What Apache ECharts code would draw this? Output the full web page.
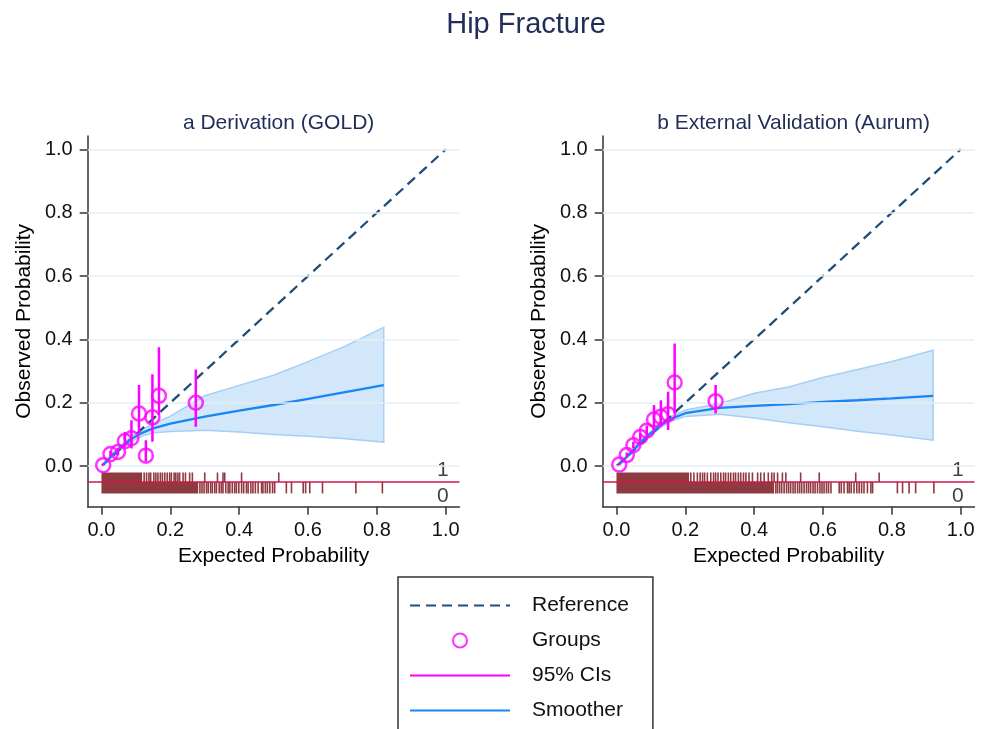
<!DOCTYPE html>
<html>
<head>
<meta charset="utf-8">
<script src="https://cdn.jsdelivr.net/npm/echarts@6/dist/echarts.min.js"></script>
<style>
  html, body { margin: 0; padding: 0; background: #fff; }
  #chart { width: 987px; height: 729px; }
</style>
</head>
<body>
<div id="chart"></div>
<script>
// tick values shared by both panels
const xTicks = [0, 0.2, 0.4, 0.6, 0.8, 1.0];
const yTicks = [0, 0.2, 0.4, 0.6, 0.8, 1.0];
const refLine = [[0, 0], [1, 1]];
const outcomeLabels = ['1', '0'];
const panelTitles = ['a Derivation (GOLD)', 'b External Validation (Aurum)'];

// a: Derivation (GOLD)
const goldGroupX = [0.005, 0.026, 0.048, 0.068, 0.087, 0.109, 0.129, 0.148, 0.167, 0.274];
const goldGroupY = [0.003, 0.038, 0.045, 0.079, 0.088, 0.166, 0.033, 0.154, 0.222, 0.200];
const goldCiLow  = [0.001, 0.030, 0.034, 0.061, 0.056, 0.103, 0.014, 0.077, 0.161, 0.124];
const goldCiHigh = [0.008, 0.048, 0.058, 0.108, 0.145, 0.256, 0.082, 0.290, 0.375, 0.305];
const goldSmoothX = [0.005, 0.03, 0.06, 0.09, 0.12, 0.15, 0.2, 0.3, 0.4, 0.5, 0.6, 0.7, 0.82];
const goldSmoothY = [0.004, 0.033, 0.063, 0.088, 0.106, 0.119, 0.134, 0.156, 0.175, 0.193, 0.212, 0.232, 0.256];
const goldBandHigh = [0.006, 0.038, 0.069, 0.096, 0.117, 0.133, 0.158, 0.222, 0.255, 0.287, 0.33, 0.375, 0.438];
const goldBandLow  = [0.002, 0.028, 0.057, 0.08, 0.096, 0.105, 0.109, 0.113, 0.108, 0.1, 0.094, 0.087, 0.076];
// rug: dense stretches as [from, to], plus single ticks
const goldEventBands = [[0, 0.118]];
const goldEventTicks = [0.124, 0.131, 0.138, 0.143, 0.152, 0.158, 0.164, 0.171, 0.177, 0.184, 0.191, 0.198,
  0.203, 0.211, 0.216, 0.222, 0.227, 0.237, 0.244, 0.256, 0.264, 0.300, 0.337, 0.353, 0.358, 0.407, 0.515];
const goldNonEventBands = [[0, 0.281]];
const goldNonEventTicks = [0.286, 0.292, 0.298, 0.305, 0.310, 0.317, 0.322, 0.329, 0.334, 0.342, 0.348, 0.353,
  0.361, 0.368, 0.373, 0.380, 0.387, 0.392, 0.399, 0.407, 0.413, 0.421, 0.426, 0.434, 0.440, 0.447, 0.455,
  0.465, 0.469, 0.476, 0.482, 0.489, 0.497, 0.503, 0.537, 0.552, 0.586, 0.593, 0.605, 0.642, 0.739, 0.816];

// b: External Validation (Aurum)
const aurumGroupX = [0.008, 0.030, 0.049, 0.069, 0.088, 0.109, 0.129, 0.150, 0.169, 0.288];
const aurumGroupY = [0.005, 0.035, 0.066, 0.092, 0.112, 0.147, 0.156, 0.164, 0.264, 0.205];
const aurumCiLow  = [0.002, 0.028, 0.056, 0.080, 0.097, 0.114, 0.124, 0.114, 0.166, 0.166];
const aurumCiHigh = [0.009, 0.043, 0.077, 0.105, 0.128, 0.193, 0.208, 0.235, 0.387, 0.256];
const aurumSmoothX = [0.008, 0.04, 0.07, 0.1, 0.13, 0.16, 0.2, 0.3, 0.4, 0.5, 0.6, 0.7, 0.8, 0.92];
const aurumSmoothY = [0.006, 0.04, 0.075, 0.104, 0.13, 0.15, 0.167, 0.184, 0.19, 0.196, 0.203, 0.208, 0.214, 0.222];
const aurumBandHigh = [0.009, 0.044, 0.08, 0.11, 0.137, 0.158, 0.177, 0.198, 0.23, 0.25, 0.28, 0.305, 0.33, 0.366];
const aurumBandLow  = [0.003, 0.036, 0.07, 0.098, 0.123, 0.142, 0.157, 0.164, 0.152, 0.137, 0.124, 0.11, 0.098, 0.082];
const aurumEventBands = [[0, 0.211]];
const aurumEventTicks = [0.216, 0.225, 0.235, 0.243, 0.250, 0.256, 0.264, 0.274, 0.282, 0.288, 0.295, 0.303,
  0.311, 0.317, 0.325, 0.332, 0.340, 0.346, 0.354, 0.361, 0.369, 0.376, 0.385, 0.395, 0.410, 0.419, 0.429,
  0.441, 0.451, 0.458, 0.468, 0.482, 0.492, 0.535, 0.589, 0.695, 0.763];
const aurumNonEventBands = [[0, 0.458]];
const aurumNonEventTicks = [0.463, 0.468, 0.474, 0.480, 0.487, 0.494, 0.500, 0.506, 0.513, 0.519, 0.526, 0.532,
  0.538, 0.545, 0.552, 0.558, 0.564, 0.571, 0.577, 0.584, 0.591, 0.597, 0.603, 0.610, 0.616, 0.623, 0.647,
  0.653, 0.661, 0.671, 0.676, 0.682, 0.690, 0.698, 0.705, 0.712, 0.719, 0.729, 0.739, 0.744, 0.816, 0.831,
  0.850, 0.869, 0.922];

const font = "'Liberation Sans', Arial, sans-serif";
const navy = '#1f2d57';
const rugColor = '#8e3a40';

const panels = [
  { gx: goldGroupX, gy: goldGroupY, lo: goldCiLow, hi: goldCiHigh,
    sx: goldSmoothX, sy: goldSmoothY, bh: goldBandHigh, bl: goldBandLow,
    eb: goldEventBands, et: goldEventTicks, nb: goldNonEventBands, nt: goldNonEventTicks },
  { gx: aurumGroupX, gy: aurumGroupY, lo: aurumCiLow, hi: aurumCiHigh,
    sx: aurumSmoothX, sy: aurumSmoothY, bh: aurumBandHigh, bl: aurumBandLow,
    eb: aurumEventBands, et: aurumEventTicks, nb: aurumNonEventBands, nt: aurumNonEventTicks }
];

const gridLefts = [87.7, 602.7];
const gridW = 371.8;

function bandRenderer(xs, lo, hi) {
  return function (params, api) {
    if (params.dataIndex !== 0) return null;
    const pts = [];
    xs.forEach((x, i) => pts.push(api.coord([x, hi[i]])));
    for (let i = xs.length - 1; i >= 0; i--) pts.push(api.coord([xs[i], lo[i]]));
    return { type: 'polygon', shape: { points: pts },
      style: { fill: '#d3e7fb', stroke: '#a5cff5', lineWidth: 1.5 } };
  };
}

function renderRug(params, api) {
  const x0 = api.value(0), x1 = api.value(1), out = api.value(2);
  const yTop = out === 1 ? -0.02 : -0.05;
  const yBot = out === 1 ? -0.05 : -0.086;
  const p0 = api.coord([x0, yTop]);
  const p1 = api.coord([x1, yBot]);
  if (x1 > x0) {
    return { type: 'rect', shape: { x: p0[0], y: p0[1], width: p1[0] - p0[0], height: p1[1] - p0[1] },
      style: { fill: rugColor } };
  }
  return { type: 'line', shape: { x1: p0[0], y1: p0[1], x2: p0[0], y2: p1[1] },
    style: { stroke: rugColor, lineWidth: 1.6 } };
}

const grids = [], xAxes = [], yAxes = [], series = [];
const titles = [{
  text: 'Hip Fracture', left: 521, top: 5, textAlign: 'center',
  textStyle: { fontSize: 29, fontWeight: 'normal', color: navy, fontFamily: font }
}];

panels.forEach((p, i) => {
  grids.push({ left: gridLefts[i], top: 136, width: gridW, height: 370.7, outerBoundsMode: 'none' });
  titles.push({
    text: panelTitles[i], left: gridLefts[i] + gridW / 2, top: 108, textAlign: 'center',
    textStyle: { fontSize: 21, fontWeight: 'normal', color: navy, fontFamily: font }
  });
  xAxes.push({
    type: 'value', gridIndex: i, min: -0.04, max: 1.04,
    name: 'Expected Probability', nameLocation: 'middle', nameGap: 32,
    nameTextStyle: { fontSize: 21, color: '#000', fontFamily: font },
    axisLine: { show: true, onZero: false, lineStyle: { color: '#333', width: 1.5 } },
    axisTick: { show: true, length: 8, customValues: xTicks, lineStyle: { color: '#333', width: 1.5 } },
    axisLabel: { customValues: xTicks, formatter: v => v.toFixed(1), fontSize: 20, color: '#111',
      margin: 14, fontFamily: font },
    splitLine: { show: false }
  });
  yAxes.push({
    type: 'value', gridIndex: i, min: -0.128, max: 1.042,
    name: 'Observed Probability', nameLocation: 'middle', nameGap: 53,
    nameTextStyle: { fontSize: 21, color: '#000', fontFamily: font },
    axisLine: { show: true, onZero: false, lineStyle: { color: '#333', width: 1.5 } },
    axisTick: { show: true, length: 8, customValues: yTicks, lineStyle: { color: '#333', width: 1.5 } },
    axisLabel: { customValues: yTicks, formatter: v => v.toFixed(1), fontSize: 20, color: '#111',
      margin: 15, fontFamily: font },
    splitLine: { show: false }
  });

  const ax = { xAxisIndex: i, yAxisIndex: i };

  // horizontal grid lines
  series.push(Object.assign({
    type: 'line', name: 'grid', data: [], z: 0, silent: true,
    markLine: { silent: true, symbol: 'none', label: { show: false },
      lineStyle: { color: '#e6eff2', width: 1.5, type: 'solid' },
      data: yTicks.map(v => ({ yAxis: v })) }
  }, ax));

  // smoother confidence band
  series.push(Object.assign({
    type: 'custom', name: 'band', z: 1, silent: true,
    renderItem: bandRenderer(p.sx, p.bl, p.bh),
    data: p.sx.map((x, k) => [x, p.bl[k], p.bh[k]]),
    encode: { x: 0, y: [1, 2] }
  }, ax));

  // rug of outcomes
  const rugData = [];
  p.eb.forEach(b => rugData.push([b[0], b[1], 1]));
  p.et.forEach(x => rugData.push([x, x, 1]));
  p.nb.forEach(b => rugData.push([b[0], b[1], 0]));
  p.nt.forEach(x => rugData.push([x, x, 0]));
  series.push(Object.assign({
    type: 'custom', name: 'rug', z: 2, silent: true,
    renderItem: renderRug, data: rugData, encode: { x: [0, 1] }
  }, ax));
  series.push(Object.assign({
    type: 'line', name: 'rugline', data: [], z: 2, silent: true,
    markLine: { silent: true, symbol: 'none', label: { show: false },
      lineStyle: { color: '#d0174b', width: 1.5, type: 'solid' },
      data: [{ yAxis: -0.05 }] }
  }, ax));
  series.push(Object.assign({
    type: 'scatter', name: 'outcome', symbolSize: 0, silent: true, z: 2,
    data: [[1, -0.013], [1, -0.096]],
    label: { show: true, position: 'inside', offset: [-3, 0], fontSize: 21, color: '#111', fontFamily: font,
      formatter: prm => outcomeLabels[prm.dataIndex] }
  }, ax));

  series.push(Object.assign({
    type: 'line', name: 'Reference', data: refLine, z: 3, symbol: 'none',
    lineStyle: { color: '#1f4e79', width: 2.3, type: [10, 6] }, itemStyle: { color: '#1f4e79' }
  }, ax));

  series.push(Object.assign({
    type: 'line', name: 'Smoother', z: 4, symbol: 'none',
    data: p.sx.map((x, k) => [x, p.sy[k]]),
    lineStyle: { color: '#1685f5', width: 2.3 }, itemStyle: { color: '#1685f5' }
  }, ax));

  const ciData = [];
  p.gx.forEach((x, k) => { ciData.push([x, p.lo[k]], [x, p.hi[k]], [x, '-']); });
  series.push(Object.assign({
    type: 'line', name: '95% CIs', z: 5, symbol: 'none', connectNulls: false,
    data: ciData, lineStyle: { color: '#ff00ff', width: 2.5 }, itemStyle: { color: '#ff00ff' }
  }, ax));

  series.push(Object.assign({
    type: 'scatter', name: 'Groups', z: 6, symbol: 'circle', symbolSize: 14,
    data: p.gx.map((x, k) => [x, p.gy[k]]),
    itemStyle: { color: 'rgba(255,255,255,0)', borderColor: '#ff00ff', borderWidth: 2.5 }
  }, ax));
});

const hideDot = { opacity: 0 };
const chart = echarts.init(document.getElementById('chart'));
chart.setOption({
  animation: false,
  backgroundColor: '#fff',
  title: titles,
  grid: grids,
  xAxis: xAxes,
  yAxis: yAxes,
  legend: {
    data: [
      { name: 'Reference', itemStyle: hideDot },
      { name: 'Groups' },
      { name: '95% CIs', itemStyle: hideDot },
      { name: 'Smoother', itemStyle: hideDot }
    ],
    orient: 'vertical', left: 398, top: 577, height: 170, selectedMode: false,
    itemWidth: 100, itemHeight: 14, itemGap: 14,
    padding: [18, 24, 16, 11], borderColor: '#333', borderWidth: 1.5,
    textStyle: { fontSize: 21, color: '#111', fontFamily: font, padding: [0, 0, 0, 17] }
  },
  series: series
});
</script>
</body>
</html>
